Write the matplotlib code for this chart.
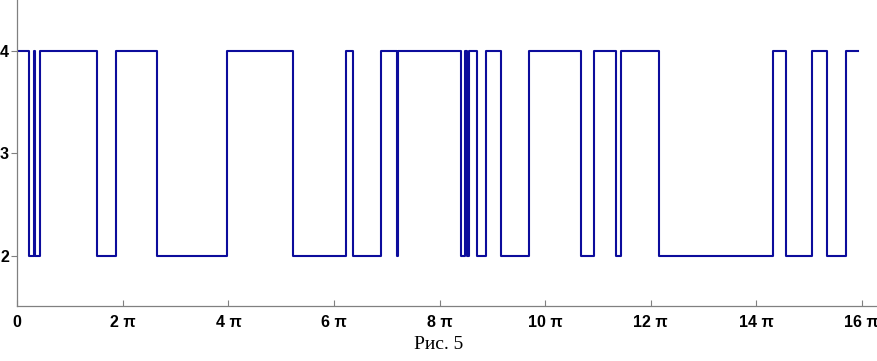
import numpy as np
import matplotlib
matplotlib.use("Agg")
import matplotlib.pyplot as plt

# switching times in units of pi, and the level held after each switch
t_start = 0.0
t_end = 15.92
switch_times = [0.227, 0.313, 0.328, 0.430, 1.510, 1.876, 2.641, 3.967,
                5.218, 6.222, 6.366, 6.891, 7.198, 7.217, 8.407, 8.479,
                8.526, 8.564, 8.704, 8.875, 9.159, 9.695, 10.680, 10.927,
                11.344, 11.432, 12.164, 14.312, 14.564, 15.051, 15.335, 15.695]
start_level = 4
levels = [2, 4, 2, 4, 2, 4, 2, 4,
          2, 4, 2, 4, 2, 4, 2, 4,
          2, 4, 2, 4, 2, 4, 2, 4,
          2, 4, 2, 4, 2, 4, 2, 4]

x_ticks = [0, 2, 4, 6, 8, 10, 12, 14, 16]
x_labels = ["0", "2 π", "4 π", "6 π", "8 π", "10 π", "12 π", "14 π", "16 π"]
y_ticks = [2, 3, 4]

xs = np.pi * np.array([t_start] + switch_times + [t_end])
ys = [start_level] + levels + [levels[-1]]

fig = plt.figure(figsize=(8.78, 3.61), dpi=100)
ax = fig.add_axes([0.0197, 0.1515, 0.978, 0.8485])

ax.step(xs, ys, where="post", color="#0c0c9c", lw=1.5)

ax.set_xlim(0, 16.27 * np.pi)
ax.set_ylim(1.506, 4.495)

ax.spines["top"].set_visible(False)
ax.spines["right"].set_visible(False)
for s in ("left", "bottom"):
    ax.spines[s].set_color("#808080")
    ax.spines[s].set_linewidth(0.9)

ax.set_xticks(np.pi * np.array(x_ticks))
ax.set_xticklabels(x_labels)
ax.set_yticks(y_ticks)
ax.tick_params(axis="x", direction="in", length=4, color="#808080", pad=6)
ax.tick_params(axis="y", direction="out", length=4, color="#808080", pad=2)
for lab in ax.get_xticklabels() + ax.get_yticklabels():
    lab.set_fontfamily("Liberation Sans")
    lab.set_fontweight("bold")
    lab.set_fontsize(11.5)

fig.text(0.5, 0.047, "Рис. 5", ha="center", va="center",
         fontfamily="Liberation Serif", fontsize=14)

fig.savefig("out.png", dpi=100)
